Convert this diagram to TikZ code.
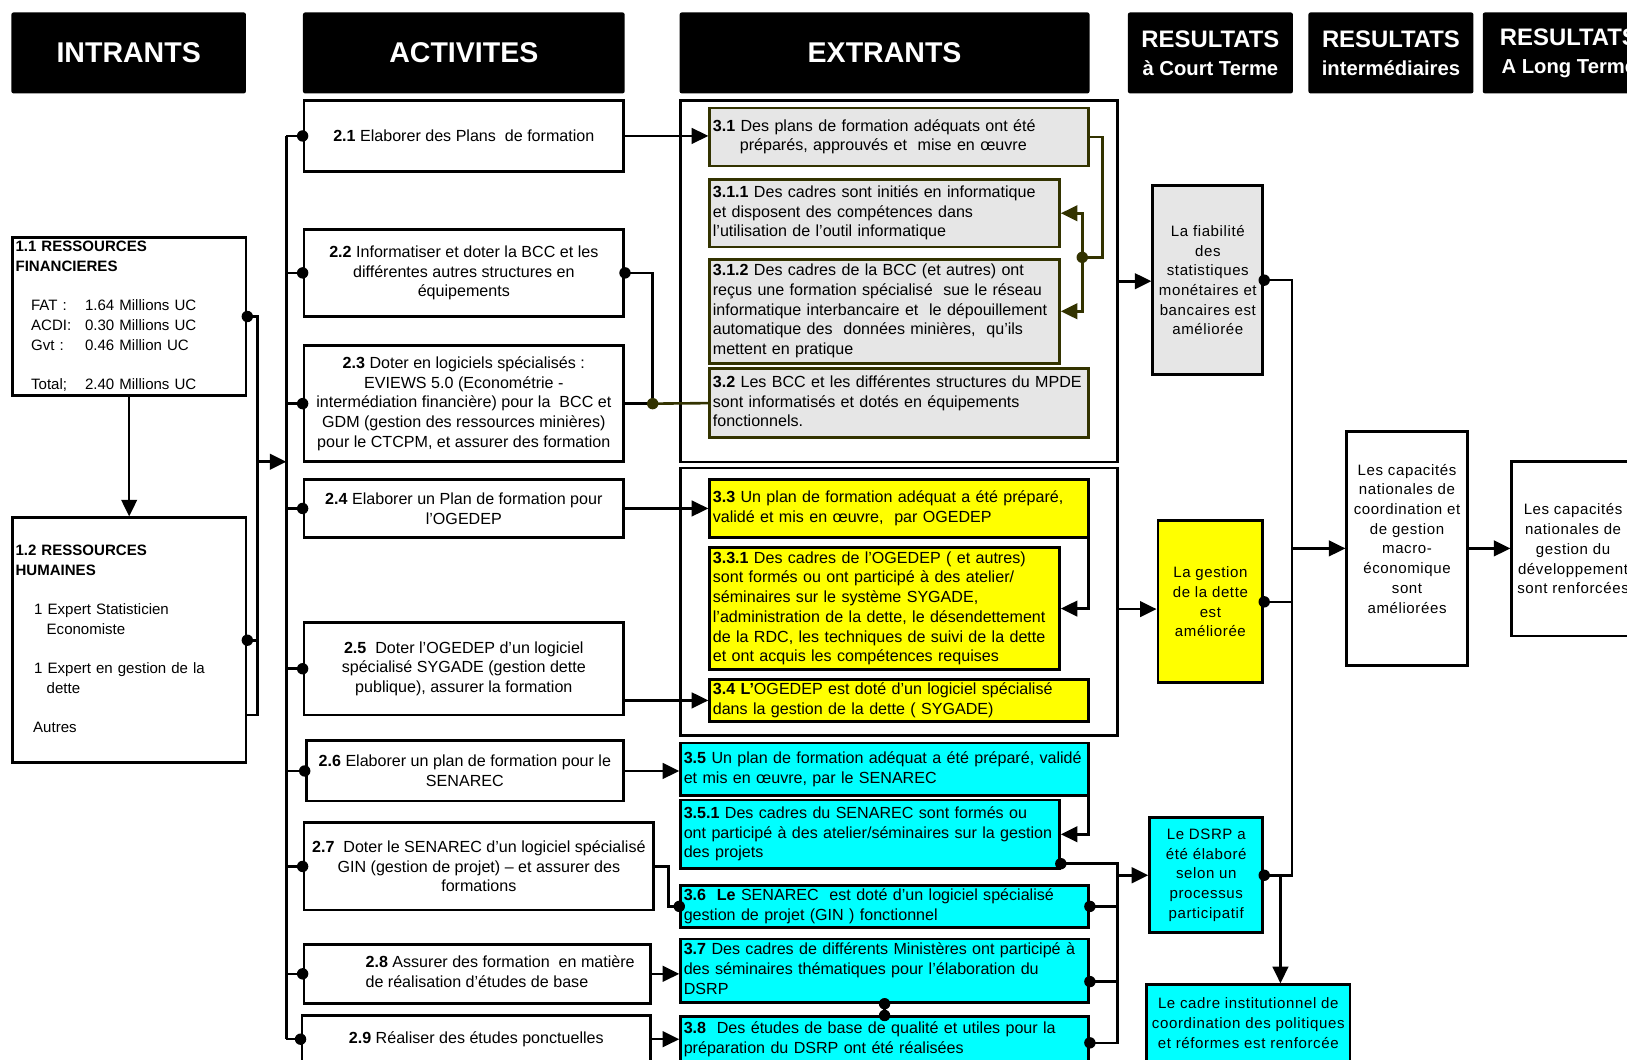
\documentclass[tikz,border=0pt]{standalone}
\usepackage{fontspec}
\setmainfont{Liberation Sans}
\newfontfamily\spacedfont[LetterSpace=4]{Liberation Sans}
\usepackage{xcolor}
\usepackage{tikz}
\usetikzlibrary{arrows.meta}

\definecolor{olivedark}{RGB}{51,51,0}
\definecolor{boxgray}{RGB}{230,230,230}
\definecolor{boxyellow}{RGB}{255,255,0}
\definecolor{boxcyan}{RGB}{0,255,255}
\newcommand{\bodysize}{\fontsize{15.5}{19}\selectfont}
\newcommand{\insize}{\fontsize{14.5}{19}\selectfont}
\newcommand{\ressize}{\spacedfont\fontsize{14.5}{19}\selectfont}
\newcommand{\leftlines}[1]{\begin{tabular}{@{}l@{}}#1\end{tabular}}

\begin{document}
\begin{tikzpicture}[x=1pt, y=-1pt,
        hdr/.style={fill=black, text=white, rounded corners=2pt, minimum height=78pt,
            align=center, inner sep=0pt, font=\fontsize{23}{27}\selectfont\bfseries},
        sz/.style 2 args={minimum width=#1pt, minimum height=#2pt},
        lsz/.style 2 args={minimum width=#1pt, text width=#1pt-6pt, minimum height=#2pt},
        inp/.style={draw, line width=2.7pt, fill=white, align=left, inner xsep=3pt, inner ysep=0pt, font=\insize},
        act/.style={draw, line width=2.7pt, fill=white, align=center, inner sep=1pt, font=\bodysize},
        grp/.style={draw, line width=2.4pt, fill=white},
        ext/.style={draw=olivedark, line width=2.7pt, fill=boxgray, align=left, inner xsep=3pt, inner ysep=0pt, font=\bodysize},
        yel/.style={ext, draw=black, fill=boxyellow},
        cya/.style={ext, draw=black, fill=boxcyan},
        res/.style={draw, line width=2.7pt, align=center, inner sep=1pt, font=\ressize},
        ln/.style={line width=2.5pt},
        oln/.style={ln, color=olivedark},
        arr/.style={ln, -{Triangle[length=16pt, width=15pt]}},
        oarr/.style={arr, color=olivedark}]
        \useasboundingbox (0,0) rectangle (1568,1021);
        \clip (0,0) rectangle (1568,1021);

        % column headers
        \node[hdr, minimum width=226pt, font=\fontsize{27.5}{30}\selectfont\bfseries] (hIn) at (124,51) {INTRANTS};
        \node[hdr, minimum width=310pt, font=\fontsize{27.5}{30}\selectfont\bfseries] (hAct) at (447,51) {ACTIVITES};
        \node[hdr, minimum width=395pt, font=\fontsize{27.5}{30}\selectfont\bfseries] (hExt) at (852.5,51) {EXTRANTS};
        \node[hdr, minimum width=159pt] (hCourt) at (1166.5,51)
            {RESULTATS\\{\fontsize{19.5}{27}\selectfont à Court Terme}};
        \node[hdr, minimum width=159pt] (hInter) at (1340.5,51)
            {RESULTATS\\{\fontsize{19.5}{27}\selectfont intermédiaires}};
        \node[hdr, minimum width=166pt] (hLong) at (1512,51)
            {RESULTATS\\{\fontsize{19.5}{27}\selectfont A Long Terme}};

        % intrants
        \node[inp, lsz={225}{152}] (in11) at (124.5,305)
            {\leftlines{\textbf{1.1 RESSOURCES}\\\textbf{FINANCIERES}\\ \\
            \hspace*{15pt}\makebox[52pt][l]{FAT :}1.64 Millions UC\\
            \hspace*{15pt}\makebox[52pt][l]{ACDI:}0.30 Millions UC\\
            \hspace*{15pt}\makebox[52pt][l]{Gvt :}0.46 Million UC\\ \\
            \hspace*{15pt}\makebox[52pt][l]{Total;}2.40 Millions UC}};
        \node[inp, lsz={225}{236}] (in12) at (124.5,617)
            {\leftlines{\textbf{1.2 RESSOURCES}\\\textbf{HUMAINES}\\ \\
            \hspace*{18pt}1 Expert Statisticien\\
            \hspace*{30pt}Economiste\\ \\
            \hspace*{18pt}1 Expert en gestion de la\\
            \hspace*{30pt}dette\\ \\
            \hspace*{17pt}Autres}};

        % activites
        \node[act, sz={308}{68}] (a21) at (447,131) {\textbf{2.1} Elaborer des Plans\ \ de formation};
        \node[act, sz={308}{84}] (a22) at (447,263)
            {\textbf{2.2} Informatiser et doter la BCC et les\\différentes autres structures en\\équipements};
        \node[act, sz={308}{112}] (a23) at (447,389)
            {\textbf{2.3} Doter en logiciels spécialisés :\\EVIEWS 5.0 (Econométrie -\\intermédiation financière) pour la\ \ BCC et\\GDM (gestion des ressources minières)\\pour le CTCPM, et assurer des formation};
        \node[act, sz={308}{56}] (a24) at (447,490) {\textbf{2.4} Elaborer un Plan de formation pour\\l’OGEDEP};
        \node[act, sz={308}{89}] (a25) at (447,644.5)
            {\textbf{2.5}\ \ Doter l’OGEDEP d’un logiciel\\spécialisé SYGADE (gestion dette\\publique), assurer la formation};
        \node[act, sz={306}{58}] (a26) at (448,743) {\textbf{2.6} Elaborer un plan de formation pour le\\SENAREC};
        \node[act, sz={337}{84}] (a27) at (461.5,835)
            {\textbf{2.7}\ \ Doter le SENAREC d’un logiciel spécialisé\\GIN (gestion de projet) -- et assurer des\\formations};
        \node[act, sz={334}{57}] (a28) at (460,938.5)
            {\hspace*{44pt}\leftlines{\textbf{2.8} Assurer des formation\ \ en matière\\de réalisation d’études de base}};
        \node[act, sz={336}{45}] (a29) at (459,1001.5) {\textbf{2.9} Réaliser des études ponctuelles};

        % extrants
        \node[grp, sz={421}{348}] (g1) at (866.5,271) {};
        \node[grp, sz={421}{258}] (g2) at (866.5,580) {};
        \node[ext, lsz={365}{56}] (e31) at (866.5,132)
            {\leftlines{\textbf{3.1} Des plans de formation adéquats ont été\\\hspace*{26pt}préparés, approuvés et\ \ mise en œuvre}};
        \node[ext, lsz={337}{65}] (e311) at (852.5,205.5)
            {\leftlines{\textbf{3.1.1} Des cadres sont initiés en informatique\\et disposent des compétences dans\\l’utilisation de l’outil informatique}};
        \node[ext, lsz={337}{100}] (e312) at (852.5,300)
            {\leftlines{\textbf{3.1.2} Des cadres de la BCC (et autres) ont\\reçus une formation spécialisé\ \ sue le réseau\\informatique interbancaire et\ \ le dépouillement\\automatique des\ \ données minières,\ \ qu’ils\\mettent en pratique}};
        \node[ext, lsz={365}{67}] (e32) at (866.5,388.5)
            {\leftlines{\textbf{3.2} Les BCC et les différentes structures du MPDE\\sont informatisés et dotés en équipements\\fonctionnels.}};
        \node[yel, lsz={365}{56}] (e33) at (866.5,490)
            {\leftlines{\textbf{3.3} Un plan de formation adéquat a été préparé,\\validé et mis en œuvre,\ \ par OGEDEP}};
        \node[yel, lsz={337}{117}] (e331) at (852.5,586.5)
            {\leftlines{\textbf{3.3.1} Des cadres de l’OGEDEP ( et autres)\\sont formés ou ont participé à des atelier/\\séminaires sur le système SYGADE,\\l’administration de la dette, le désendettement\\de la RDC, les techniques de suivi de la dette\\et ont acquis les compétences requises}};
        \node[yel, lsz={365}{40}] (e34) at (866.5,675)
            {\leftlines{\textbf{3.4 L’}OGEDEP est doté d’un logiciel spécialisé\\dans la gestion de la dette ( SYGADE)}};
        \node[cya, lsz={393}{51}] (e35) at (852.5,741.5)
            {\leftlines{\textbf{3.5} Un plan de formation adéquat a été préparé, validé\\et mis en œuvre, par le SENAREC}};
        \node[cya, lsz={365}{66}] (e351) at (838.5,804)
            {\leftlines{\textbf{3.5.1} Des cadres du SENAREC sont formés ou\\ont participé à des atelier/séminaires sur la gestion\\des projets}};
        \node[cya, lsz={393}{41}] (e36) at (852.5,873.5)
            {\leftlines{\textbf{3.6\ \ Le} SENAREC\ \ est doté d’un logiciel spécialisé\\gestion de projet (GIN ) fonctionnel}};
        \node[cya, lsz={393}{61}] (e37) at (852.5,935.5)
            {\leftlines{\textbf{3.7} Des cadres de différents Ministères ont participé à\\des séminaires thématiques pour l’élaboration du\\DSRP}};
        \node[cya, lsz={393}{43}] (e38) at (852.5,1001.5)
            {\leftlines{\textbf{3.8}\ \ Des études de base de qualité et utiles pour la\\préparation du DSRP ont été réalisées}};

        % resultats
        \node[res, fill=boxgray, sz={106}{182}] (rc1) at (1164,270)
            {La fiabilité\\des\\statistiques\\monétaires et\\bancaires est\\améliorée};
        \node[res, fill=boxyellow, sz={101}{156}] (rc2) at (1166.5,580)
            {La gestion\\de la dette\\est\\améliorée};
        \node[res, fill=boxcyan, sz={109}{111}] (dsrp) at (1162.5,843.5)
            {Le DSRP a\\été élaboré\\selon un\\processus\\participatif};
        \node[res, fill=boxcyan, sz={196}{74}] (cadre) at (1203,986)
            {Le cadre institutionnel de\\coordination des politiques\\et réformes est renforcée};
        \node[res, fill=white, sz={116}{225}] (cap) at (1356,528.5)
            {Les capacités\\nationales de\\coordination et\\de gestion\\macro-\\économique\\sont\\améliorées\\\mbox{}};
        \node[res, fill=white, sz={118}{168}] (lt) at (1516,529)
            {Les capacités\\nationales de\\gestion du\\développement\\sont renforcées};

        \coordinate (bus) at (276,445);
        \coordinate (inBar) at (248,445);
        \coordinate (j32) at (629,389);
        \coordinate (j31) at (1043,248);
        \coordinate (cBar) at (1077,843.5);
        \coordinate (rBus) at (1245,528.5);
        \coordinate (dDown) at (1234,843.5);
        \coordinate (d351) at ([yshift=6pt]e351.south east);
        \coordinate (d37) at ([yshift=-10.5pt]e37.east);
        \coordinate (d38) at ([yshift=-3.5pt]e38.east);

        % intrants to activites
        \draw[arr] (in11) -- (in12);
        \draw[ln] (in11.east) -| (inBar) |- ([yshift=-72pt]in12.east);
        \draw[ln] (in12.east) -- (in12.east -| inBar);
        \draw[arr] (inBar) -- (bus);
        \fill (in11.east) circle (5.5pt) (in12.east) circle (5.5pt);
        \draw[ln] (a21.west -| bus) -- (a29.west -| bus);
        \foreach \n in {21,...,29} {
            \draw[ln] (a\n.west) -- (a\n.west -| bus);
            \fill (a\n.west) circle (5.5pt);
        }

        % activites to extrants
        \draw[arr] (a21.east) -- (a21.east -| e31.west);
        \draw[ln] (a22.east) -| (j32);
        \draw[ln] (a23.east) -- (j32);
        \draw[oln] (j32) -- (e32.west);
        \fill (a22.east) circle (5.5pt);
        \fill[olivedark] (j32) circle (5.5pt);
        \draw[arr] (a24.east) -- (a24.east -| e33.west);
        \draw[arr] (a25.east |- e34.west) -- (e34.west);
        \draw[arr] (a26.east) -- (a26.east -| e35.west);
        \draw[ln] (a27.east) -- ++(13,0) |- (e36.west);
        \fill (e36.west) circle (5.5pt);
        \draw[arr] (a28.east) -- (a28.east -| e37.west);
        \draw[arr] (a29.east) -- (a29.east -| e38.west);

        % inside extrants
        \draw[oln] (e31.east) -- ++(12,0) |- (j31);
        \draw[oarr] (j31) |- (e311.east);
        \draw[oarr] (j31) |- (e312.east);
        \fill[olivedark] (j31) circle (5.5pt);
        \draw[arr] ([xshift=-1.5pt]e33.south east) |- (e331.east);
        \draw[arr] ([xshift=-1.5pt]e35.south east) |- (e351.east);
        \draw[ln] (e37.south) -- (e38.north);
        \fill (e37.south) circle (5.5pt) (e38.north) circle (5.5pt);

        % extrants to resultats
        \draw[arr] (g1.east) -- (g1.east -| rc1.west);
        \draw[arr] ([yshift=-7pt]g2.east) -- ([yshift=-7pt]g2.east -| rc2.west);
        \draw[ln] (d351) -| (cBar |- d38) -- (d38);
        \draw[ln] (e36.east) -- (e36.east -| cBar);
        \draw[ln] (d37) -- (d37 -| cBar);
        \draw[arr] (cBar) -- (dsrp.west);
        \foreach \p in {d351,e36.east,d37,d38}
            \fill (\p) circle (5.5pt);

        % resultats
        \draw[ln] (rc1.east) -| (rBus |- dsrp.east) -- (dsrp.east);
        \draw[ln] (rc2.east) -- (rc2.east -| rBus);
        \draw[arr] (dDown) -- (dDown |- cadre.north);
        \draw[arr] (rBus) -- (rBus -| cap.west);
        \draw[arr] (cap.east) -- (cap.east -| lt.west);
        \fill (rc1.east) circle (5.5pt) (rc2.east) circle (5.5pt) (dsrp.east) circle (5.5pt);
    \end{tikzpicture}
\end{document}
